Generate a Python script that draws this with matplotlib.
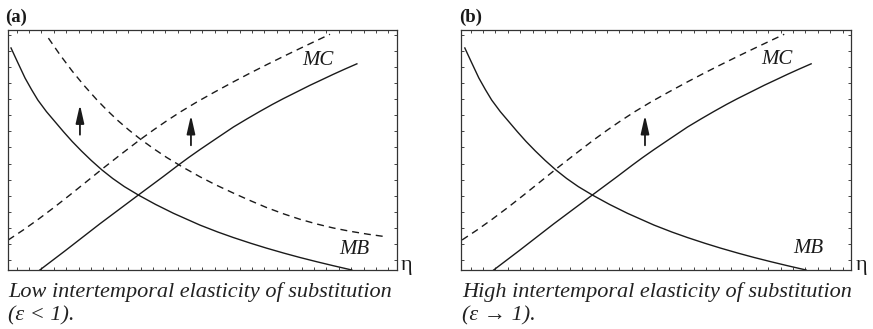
import numpy as np
import matplotlib
matplotlib.use("Agg")
import matplotlib.pyplot as plt

plt.rcParams['font.family'] = ['Liberation Serif', 'DejaVu Serif']

# ---- data (arbitrary units 0..10) ----
mb_x = [0.09, 0.25, 0.45, 0.62, 0.78, 1.00, 1.22, 1.44, 1.66, 1.90, 2.15, 2.42, 2.70,
        3.00, 3.36, 3.80, 4.26, 4.94, 5.40, 5.80, 6.25, 6.65, 7.10, 7.51, 7.95, 8.36, 8.84]
mb_y = [9.24, 8.68, 7.99, 7.50, 7.07, 6.59, 6.17, 5.75, 5.35, 4.95, 4.56, 4.17, 3.81,
        3.47, 3.12, 2.73, 2.36, 1.87, 1.58, 1.35, 1.11, 0.91, 0.70, 0.52, 0.34, 0.18, 0.00]

mc_x = [0.83, 1.48, 2.37, 3.36, 4.00, 4.39, 4.65, 4.94, 5.35, 5.80, 6.15, 6.48, 6.80,
        7.08, 7.45, 7.77, 8.06, 8.36, 8.66, 8.97]
mc_y = [0.00, 0.80, 1.92, 3.12, 3.89, 4.37, 4.68, 5.01, 5.46, 5.95, 6.29, 6.60, 6.89,
        7.13, 7.43, 7.69, 7.91, 8.14, 8.36, 8.58]

mc_up_x = [0.02, 0.40, 0.79, 1.20, 1.60, 2.00, 2.42, 2.90, 3.40, 3.75, 4.09, 4.45, 4.86,
           5.30, 5.80, 6.20, 6.65, 7.10, 7.51, 7.90, 8.28]
mc_up_y = [1.25, 1.66, 2.11, 2.61, 3.12, 3.64, 4.19, 4.80, 5.42, 5.83, 6.21, 6.59, 6.99,
           7.39, 7.83, 8.17, 8.54, 8.90, 9.22, 9.52, 9.81]

mb_up_x = [1.05, 1.35, 1.66, 1.97, 2.29, 2.56, 2.84, 3.12, 3.40, 3.75, 4.09, 4.50, 4.94,
           5.35, 5.80, 6.20, 6.65, 7.10, 7.51, 7.95, 8.36, 8.80, 9.25, 9.69]
mb_up_y = [9.65, 8.95, 8.28, 7.67, 7.09, 6.64, 6.21, 5.82, 5.46, 5.05, 4.68, 4.28, 3.88,
           3.54, 3.20, 2.91, 2.60, 2.33, 2.11, 1.91, 1.75, 1.61, 1.49, 1.39]

# arrows: x, base y, tip y
arrows_a_x = [1.86, 4.71]
arrows_a_y0 = [5.63, 5.19]
arrows_a_y1 = [6.88, 6.44]
arrows_b_x = [4.71]
arrows_b_y0 = [5.19]
arrows_b_y1 = [6.44]

panel_labels = ["(a)", "(b)"]
captions_1 = ["Low intertemporal elasticity of substitution",
              "High intertemporal elasticity of substitution"]
captions_2 = ["(\u03b5 < 1).", "(\u03b5 \u2192 1)."]
mc_label_pos = [(7.96, 8.72), (8.09, 8.74)]
mb_label_pos = [(8.90, 0.87), (8.89, 0.90)]

W, H = 873, 329
fig = plt.figure(figsize=(W / 100, H / 100), dpi=100)

ink = '#1a1a1a'
axes_px = [(7.5, 29.7, 389.5, 240.3), (461.3, 29.7, 390.0, 240.3)]

for i, (l, t, w, h) in enumerate(axes_px):
    ax = fig.add_axes([l / W, 1 - (t + h) / H, w / W, h / H])
    ax.set_xlim(0, 10)
    ax.set_ylim(0, 10)
    for s in ax.spines.values():
        s.set_linewidth(0.9)
        s.set_color('#333333')
    xt = np.arange(0.236, 10, 0.318)
    yt = np.arange(0.416, 10, 0.669)
    ax.set_xticks(xt)
    ax.set_yticks(yt)
    ax.tick_params(direction='in', length=2.0, width=0.7, colors='#444444',
                   top=True, right=True, labelbottom=False, labelleft=False)

    lw = 1.0
    ax.plot(mb_x, mb_y, color=ink, lw=lw, solid_joinstyle='round')
    ax.plot(mc_x, mc_y, color=ink, lw=lw, solid_joinstyle='round')
    ax.plot(mc_up_x, mc_up_y, color=ink, lw=lw, linestyle=(0, (5.0, 3.6)))
    if i == 0:
        ax.plot(mb_up_x, mb_up_y, color=ink, lw=lw, linestyle=(0, (5.0, 3.6)))
        axx, ay0, ay1 = arrows_a_x, arrows_a_y0, arrows_a_y1
    else:
        axx, ay0, ay1 = arrows_b_x, arrows_b_y0, arrows_b_y1
    for x, y0, y1 in zip(axx, ay0, ay1):
        ax.annotate('', xy=(x, y1), xytext=(x, y0),
                    arrowprops=dict(arrowstyle='-|>,head_length=1.1,head_width=0.25',
                                    mutation_scale=10, lw=1.3, color=ink,
                                    shrinkA=0, shrinkB=0))

    ax.text(*mc_label_pos[i], "MC", style='italic', fontsize=15, color=ink,
            ha='center', va='center')
    ax.text(*mb_label_pos[i], "MB", style='italic', fontsize=15, color=ink,
            ha='center', va='center')

    # eta label at right of x axis
    ax.annotate("\u03b7", xy=(1, 0), xycoords='axes fraction',
                xytext=(3, 0), textcoords='offset points',
                ha='left', va='baseline', fontsize=16, color=ink)

    # panel label
    fig.text((l - 2) / W, 1 - 22 / H, panel_labels[i], fontsize=13.5,
             fontweight='bold', ha='left', va='baseline', color=ink)

    # caption
    fig.text((l + 1) / W, 1 - 296.5 / H, captions_1[i], style='italic',
             fontsize=16, ha='left', va='baseline', color='#222222')
    fig.text((l + 1) / W, 1 - 320.5 / H, captions_2[i], style='italic',
             fontsize=16, ha='left', va='baseline', color='#222222')

fig.savefig("out.png", dpi=100)
